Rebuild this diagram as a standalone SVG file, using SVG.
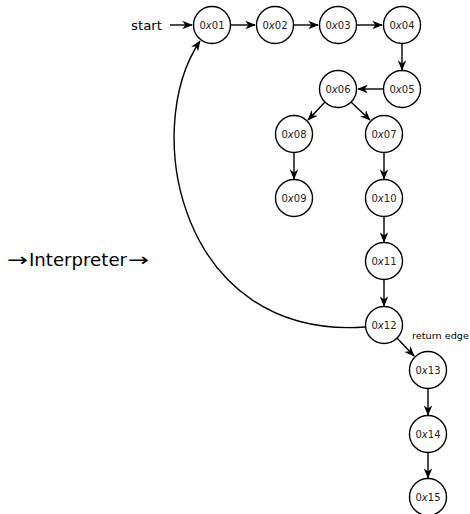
<svg xmlns="http://www.w3.org/2000/svg" width="470" height="514" viewBox="0 0 470 514">
<style>
.n circle{fill:#fff;stroke:#000;stroke-width:1.4}
.n text{font-family:"DejaVu Sans",sans-serif;font-size:10px;text-anchor:middle;fill:#222}
.n text tspan.x{font-style:italic}
.e{fill:none;stroke:#000;stroke-width:1.4;marker-end:url(#ah)}
.lbl{font-family:"DejaVu Sans",sans-serif;fill:#000}
</style>
<defs>
<marker id="ah" viewBox="0 0 10 8" refX="9.3" refY="4" markerWidth="10.5" markerHeight="8.6" markerUnits="userSpaceOnUse" orient="auto" preserveAspectRatio="none">
<path d="M0,0 L10,4 L0,8 L3,4 z" fill="#000"/>
</marker>
</defs>
<rect width="470" height="514" fill="#fff"/>
<g id="connectors">
<path class="e" d="M170,25 L192,25"/>
<path class="e" d="M231,25 L255,25"/>
<path class="e" d="M294,25 L318,25"/>
<path class="e" d="M357,25 L382,25"/>
<path class="e" d="M402,44 L402,70"/>
<path class="e" d="M383,89 L358,89"/>
<path class="e" d="M325,102 L308,120"/>
<path class="e" d="M351,102 L370,120"/>
<path class="e" d="M294,153 L294,179"/>
<path class="e" d="M384,153 L384,179"/>
<path class="e" d="M384,217 L384,242"/>
<path class="e" d="M384,280 L384,306"/>
<path class="e" d="M397,338 L414,356"/>
<path class="e" d="M428,389 L428,415"/>
<path class="e" d="M428,452 L428,478"/>
<path class="e" d="M365,327 C180,340 140,130 200,41"/>
</g>
<text class="lbl" x="131" y="30" font-size="13" textLength="31" lengthAdjust="spacingAndGlyphs">start</text>
<text class="lbl" y="266" font-size="18"><tspan x="7" textLength="21" lengthAdjust="spacingAndGlyphs">→</tspan><tspan x="29" textLength="98" lengthAdjust="spacingAndGlyphs">Interpreter</tspan><tspan x="128" textLength="21" lengthAdjust="spacingAndGlyphs">→</tspan></text>
<text class="lbl" x="412" y="339" font-size="9" textLength="57" lengthAdjust="spacingAndGlyphs">return edge</text>
<g id="n01" class="n"><circle cx="212" cy="25" r="18.5"/><text x="212" y="28.5">0<tspan class="x">x</tspan>01</text></g>
<g id="n02" class="n"><circle cx="275" cy="25" r="18.5"/><text x="275" y="28.5">0<tspan class="x">x</tspan>02</text></g>
<g id="n03" class="n"><circle cx="338" cy="25" r="18.5"/><text x="338" y="28.5">0<tspan class="x">x</tspan>03</text></g>
<g id="n04" class="n"><circle cx="402" cy="25" r="18.5"/><text x="402" y="28.5">0<tspan class="x">x</tspan>04</text></g>
<g id="n05" class="n"><circle cx="402" cy="89" r="18.5"/><text x="402" y="92.5">0<tspan class="x">x</tspan>05</text></g>
<g id="n06" class="n"><circle cx="338" cy="89" r="18.5"/><text x="338" y="92.5">0<tspan class="x">x</tspan>06</text></g>
<g id="n07" class="n"><circle cx="384" cy="134" r="18.5"/><text x="384" y="137.5">0<tspan class="x">x</tspan>07</text></g>
<g id="n08" class="n"><circle cx="294" cy="134" r="18.5"/><text x="294" y="137.5">0<tspan class="x">x</tspan>08</text></g>
<g id="n09" class="n"><circle cx="294" cy="198" r="18.5"/><text x="294" y="201.5">0<tspan class="x">x</tspan>09</text></g>
<g id="n10" class="n"><circle cx="384" cy="198" r="18.5"/><text x="384" y="201.5">0<tspan class="x">x</tspan>10</text></g>
<g id="n11" class="n"><circle cx="384" cy="261" r="18.5"/><text x="384" y="264.5">0<tspan class="x">x</tspan>11</text></g>
<g id="n12" class="n"><circle cx="384" cy="325" r="18.5"/><text x="384" y="328.5">0<tspan class="x">x</tspan>12</text></g>
<g id="n13" class="n"><circle cx="428" cy="370" r="18.5"/><text x="428" y="373.5">0<tspan class="x">x</tspan>13</text></g>
<g id="n14" class="n"><circle cx="428" cy="434" r="18.5"/><text x="428" y="437.5">0<tspan class="x">x</tspan>14</text></g>
<g id="n15" class="n"><circle cx="428" cy="497" r="18.5"/><text x="428" y="500.5">0<tspan class="x">x</tspan>15</text></g>
</svg>
